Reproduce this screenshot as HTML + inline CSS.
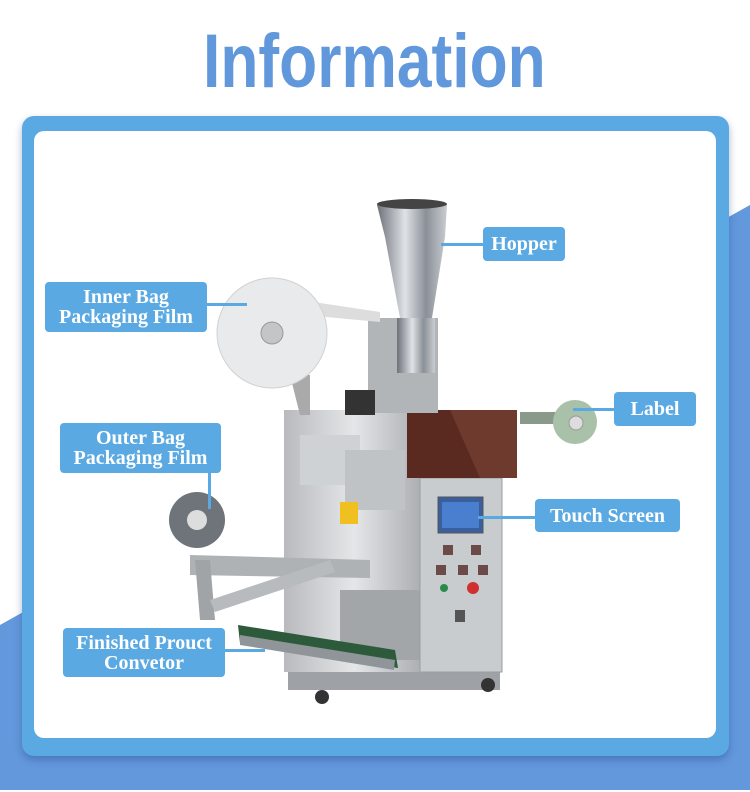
<!DOCTYPE html>
<html><head><meta charset="utf-8"><style>
*{margin:0;padding:0;box-sizing:border-box}
body{width:750px;height:792px;position:relative;overflow:hidden;background:#fff;font-family:"Liberation Serif",serif}
.title{position:absolute;left:203px;top:18px;font:bold 76px "Liberation Sans",sans-serif;color:#6198dc;transform:scaleX(0.82);transform-origin:0 0;white-space:nowrap;line-height:88px}
.frame{position:absolute;left:22px;top:116px;width:707px;height:640px;background:#5aa9e2;border-radius:12px;box-shadow:0 4px 8px rgba(40,70,140,.4)}
.panel{position:absolute;left:34px;top:131px;width:682px;height:607px;background:#fff;border-radius:10px}
.lb{position:absolute;background:#5aa9e2;color:#fff;font-weight:bold;font-size:20px;line-height:20px;text-align:center;border-radius:4px;display:flex;align-items:center;justify-content:center;letter-spacing:0}
.ln{position:absolute;background:#5aa9e2}
</style></head><body>
<svg width="750" height="792" style="position:absolute;left:0;top:0">
<polygon points="750,205 750,790 0,790 0,625" fill="#6398dc"/>
</svg>
<div class="title">Information</div>
<div class="frame"></div>
<div class="panel"></div>
<svg width="750" height="792" style="position:absolute;left:0;top:0">
<defs>
<linearGradient id="st" x1="0" x2="1"><stop offset="0" stop-color="#b8babd"/><stop offset=".5" stop-color="#e4e6e8"/><stop offset="1" stop-color="#a9acb0"/></linearGradient>
<linearGradient id="hp" x1="0" x2="1"><stop offset="0" stop-color="#6d7279"/><stop offset=".4" stop-color="#dfe2e6"/><stop offset=".7" stop-color="#8a9097"/><stop offset="1" stop-color="#c9cdd1"/></linearGradient>
</defs>
<rect x="288" y="668" width="212" height="22" fill="#9ea2a6"/>
<circle cx="322" cy="697" r="7" fill="#333"/><circle cx="488" cy="685" r="7" fill="#333"/>
<rect x="284" y="410" width="140" height="262" fill="url(#st)"/>
<rect x="300" y="435" width="60" height="50" fill="#cfd2d4"/>
<rect x="340" y="590" width="80" height="70" fill="#a2a6a9"/>
<rect x="420" y="478" width="82" height="194" fill="#c9ccce" stroke="#9a9ea2"/>
<rect x="438" y="497" width="45" height="36" fill="#3b5f9c" stroke="#555"/>
<rect x="442" y="502" width="37" height="26" fill="#4a7fcf"/>
<rect x="443" y="545" width="10" height="10" fill="#6b4a47"/><rect x="471" y="545" width="10" height="10" fill="#6b4a47"/>
<rect x="436" y="565" width="10" height="10" fill="#6b4a47"/><rect x="458" y="565" width="10" height="10" fill="#6b4a47"/><rect x="478" y="565" width="10" height="10" fill="#6b4a47"/>
<circle cx="444" cy="588" r="4" fill="#2a8a4a"/><circle cx="473" cy="588" r="6" fill="#d03030"/>
<rect x="455" y="610" width="10" height="12" fill="#555"/>
<rect x="407" y="410" width="110" height="68" fill="#5a2a20"/>
<polygon points="450,410 517,410 517,478 480,478" fill="#6e3a2e"/>
<rect x="368" y="318" width="70" height="95" fill="#b2b5b8"/>
<rect x="345" y="390" width="30" height="25" fill="#333"/>
<rect x="345" y="450" width="60" height="60" fill="#c0c3c5"/>
<rect x="340" y="502" width="18" height="22" fill="#f0c020"/>
<polygon points="377,205 447,205 445,237 432,318 400,318 385,237" fill="url(#hp)"/>
<ellipse cx="412" cy="204" rx="35" ry="5" fill="#444"/>
<rect x="397" y="318" width="38" height="55" fill="url(#hp)"/>
<polygon points="300,300 380,312 380,322 305,315" fill="#ddd"/>
<polygon points="290,375 310,375 310,415 300,415" fill="#aaa"/>
<circle cx="272" cy="333" r="55" fill="#e9eaeb" stroke="#cfd1d3"/>
<circle cx="272" cy="333" r="11" fill="#c3c5c7" stroke="#999"/>
<rect x="520" y="412" width="55" height="12" fill="#8a9a8a"/>
<circle cx="575" cy="422" r="22" fill="#a9c1a9"/>
<circle cx="576" cy="423" r="7" fill="#ddd" stroke="#999"/>
<polygon points="190,555 370,560 370,578 190,575" fill="#aeb2b5"/>
<polygon points="195,560 210,560 215,620 200,620" fill="#a0a4a7"/>
<polygon points="210,600 330,560 335,572 215,612" fill="#b8bbbe"/>
<circle cx="197" cy="520" r="28" fill="#6f747a"/>
<circle cx="197" cy="520" r="10" fill="#ddd"/>
<polygon points="238,625 395,650 398,668 240,643" fill="#2d5a3a"/>
<polygon points="240,635 395,660 394,670 240,645" fill="#8f9598"/>
</svg>
<div class="ln" style="left:441px;top:243px;width:43px;height:3px"></div>
<div class="lb" style="left:483px;top:227px;width:82px;height:34px">Hopper</div>
<div class="ln" style="left:207px;top:303px;width:40px;height:3px"></div>
<div class="lb" style="left:45px;top:282px;width:162px;height:50px">Inner Bag<br>Packaging Film</div>
<div class="ln" style="left:573px;top:408px;width:42px;height:3px"></div>
<div class="lb" style="left:614px;top:392px;width:82px;height:34px">Label</div>
<div class="ln" style="left:208px;top:473px;width:3px;height:36px"></div>
<div class="lb" style="left:60px;top:423px;width:161px;height:50px">Outer Bag<br>Packaging Film</div>
<div class="ln" style="left:478px;top:516px;width:58px;height:3px"></div>
<div class="lb" style="left:535px;top:499px;width:145px;height:33px">Touch Screen</div>
<div class="ln" style="left:225px;top:649px;width:40px;height:3px"></div>
<div class="lb" style="left:63px;top:628px;width:162px;height:49px">Finished Prouct<br>Convetor</div>
</body></html>
